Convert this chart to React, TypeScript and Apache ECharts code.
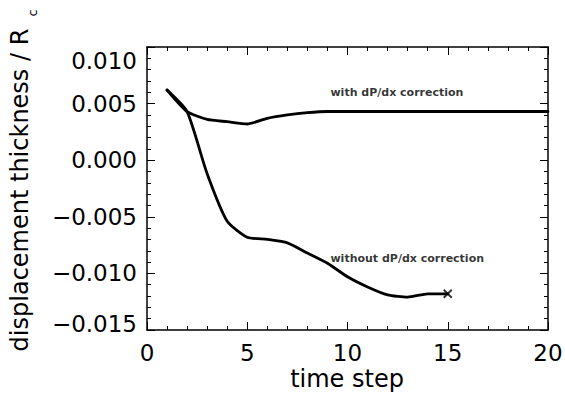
import React, { useEffect, useRef } from "react";
import * as echarts from "echarts";

// ---- data ----
const timeWith = [1, 2, 3, 4, 5, 6, 7, 8, 9, 10, 11, 12, 13, 14, 15, 16, 17, 18, 19, 20];
const withCorrection = [
  0.0062, 0.0043, 0.0036, 0.0034, 0.0032, 0.0037, 0.0040, 0.0042, 0.0043, 0.0043,
  0.0043, 0.0043, 0.0043, 0.0043, 0.0043, 0.0043, 0.0043, 0.0043, 0.0043, 0.0043,
];
const timeWithout = [1, 2, 3, 4, 5, 6, 7, 8, 9, 10, 11, 12, 13, 14, 15];
const withoutCorrection = [
  0.0062, 0.0043, -0.0012, -0.0054, -0.0068, -0.0070, -0.0073, -0.0082, -0.0091, -0.0103,
  -0.0112, -0.0119, -0.0121, -0.0118, -0.0118,
];
const endMarkerTime = [15];
const endMarkerValue = [-0.0118];
const annotationText = ["with dP/dx correction", "without dP/dx correction"];
const annotationTime = [9.15, 9.15];
const annotationValue = [0.0060, -0.0087];

const xTitle = "time step";
const yTitleMain = "displacement thickness / R";
const yTitleSub = "c";

const X_MIN = 0, X_MAX = 20, X_STEP = 5;
const Y_MIN = -0.015, Y_MAX = 0.010, Y_STEP = 0.005;

const FONT = "DejaVu Sans";

const mkLine = () => ({ show: true, onZero: false, lineStyle: { color: "#000", width: 1.5 } });
const mkTick = () => ({ show: true, inside: true, length: 8, lineStyle: { color: "#000", width: 1 } });
const mkMinor = () => ({ show: true, splitNumber: 5, length: 4, lineStyle: { color: "#000", width: 1 } });

export default function App() {
  const ref = useRef<HTMLDivElement>(null);
  useEffect(() => {
    if (!ref.current) return;
    const chart = echarts.init(ref.current, null, { renderer: "svg" });
    const fmtY = (v: number) => {
      const s = v.toFixed(3).replace("-", "\u2212");
      if (Math.abs(v - Y_MAX) < 1e-9) return "{s1| }\n{v|" + s + "}";
      if (Math.abs(v - Y_MIN) < 1e-9) return "{v|" + s + "}\n{s2| }";
      return "{v|" + s + "}";
    };
    chart.setOption({
      animation: false,
      backgroundColor: "#fff",
      grid: { left: 147, right: 17, top: 47, bottom: 72, containLabel: false, outerBoundsMode: "none" },
      xAxis: [
        {
          type: "value", min: X_MIN, max: X_MAX, interval: X_STEP, position: "bottom",
          axisLine: mkLine(), axisTick: mkTick(), minorTick: mkMinor(), splitLine: { show: false },
          axisLabel: { fontSize: 23, fontFamily: FONT, color: "#000", margin: 11 },
        },
        {
          type: "value", min: X_MIN, max: X_MAX, interval: X_STEP, position: "top",
          axisLine: mkLine(), axisTick: mkTick(), minorTick: mkMinor(), splitLine: { show: false },
          axisLabel: { show: false },
        },
      ],
      yAxis: [
        {
          type: "value", min: Y_MIN, max: Y_MAX, interval: Y_STEP, position: "left",
          axisLine: mkLine(), axisTick: mkTick(), minorTick: mkMinor(), splitLine: { show: false },
          axisLabel: {
            fontSize: 23, fontFamily: FONT, color: "#000", margin: 10, formatter: fmtY,
            rich: {
              v: { fontSize: 23, fontFamily: FONT, color: "#000", lineHeight: 27 },
              s1: { fontSize: 23, fontFamily: FONT, lineHeight: 27 },
              s2: { fontSize: 23, fontFamily: FONT, lineHeight: 13 },
            },
          },
        },
        {
          type: "value", min: Y_MIN, max: Y_MAX, interval: Y_STEP, position: "right",
          axisLine: mkLine(), axisTick: mkTick(), minorTick: mkMinor(), splitLine: { show: false },
          axisLabel: { show: false },
        },
      ],
      graphic: [
        {
          type: "text", x: 347, y: 379,
          style: {
            text: xTitle, fontSize: 24, fontFamily: FONT, fill: "#000",
            align: "center", verticalAlign: "middle",
          },
        },
        {
          type: "text", x: 20, y: 190, rotation: Math.PI / 2,
          style: {
            text: yTitleMain, fontSize: 24, fontFamily: FONT, fill: "#000",
            align: "center", verticalAlign: "middle",
          },
        },
        {
          type: "text", x: 32, y: 13, rotation: Math.PI / 2,
          style: {
            text: yTitleSub, fontSize: 13, fontFamily: FONT, fill: "#000",
            align: "center", verticalAlign: "middle",
          },
        },
      ],
      series: [
        {
          name: annotationText[0], type: "line", xAxisIndex: 0, yAxisIndex: 0,
          data: timeWith.map((t, i) => [t, withCorrection[i]]),
          symbol: "none", smooth: 0.2,
          lineStyle: { color: "#000", width: 2.8, cap: "round", join: "round" },
        },
        {
          name: annotationText[1], type: "line", xAxisIndex: 0, yAxisIndex: 0,
          data: timeWithout.map((t, i) => [t, withoutCorrection[i]]),
          symbol: "none", smooth: 0.2,
          lineStyle: { color: "#000", width: 2.8, cap: "round", join: "round" },
        },
        {
          type: "scatter", xAxisIndex: 0, yAxisIndex: 0,
          data: endMarkerTime.map((t, i) => [t, endMarkerValue[i]]),
          symbol: "path://M0,0L10,10M10,0L0,10", symbolSize: 8,
          itemStyle: { color: "none", borderColor: "#000", borderWidth: 2 },
        },
        {
          type: "scatter", xAxisIndex: 0, yAxisIndex: 0, symbolSize: 0,
          data: annotationText.map((n, i) => ({ name: n, value: [annotationTime[i], annotationValue[i]] })),
          label: {
            show: true, position: "right", distance: 0, formatter: "{b}",
            fontSize: 11, fontFamily: FONT, fontWeight: "bold", color: "#000",
          },
        },
      ],
    });
    return () => chart.dispose();
  }, []);
  return <div ref={ref} style={{ position: "fixed", left: 0, top: 0, width: 565, height: 402 }} />;
}
